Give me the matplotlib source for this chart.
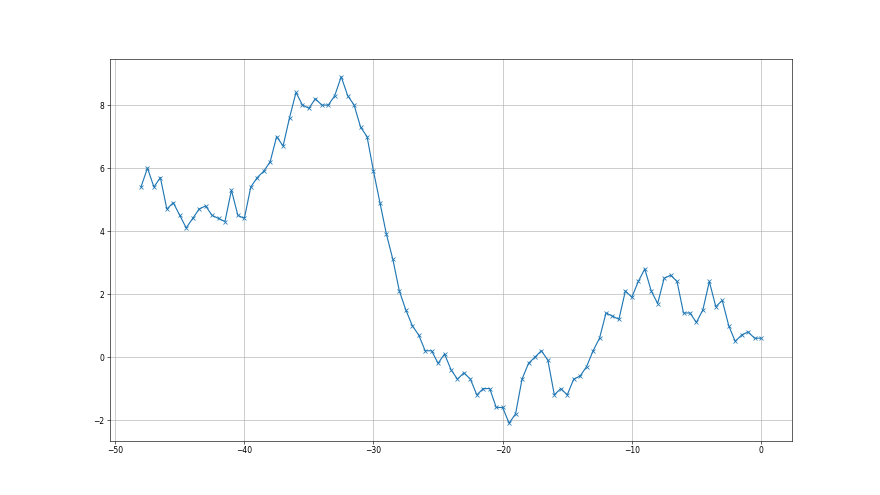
import matplotlib
matplotlib.use("Agg")
import matplotlib.pyplot as plt

x_values = [-48.0, -47.5, -47.0, -46.5, -46.0, -45.5, -45.0, -44.5, -44.0, -43.5,
            -43.0, -42.5, -42.0, -41.5, -41.0, -40.5, -40.0, -39.5, -39.0, -38.5,
            -38.0, -37.5, -37.0, -36.5, -36.0, -35.5, -35.0, -34.5, -34.0, -33.5,
            -33.0, -32.5, -32.0, -31.5, -31.0, -30.5, -30.0, -29.5, -29.0, -28.5,
            -28.0, -27.5, -27.0, -26.5, -26.0, -25.5, -25.0, -24.5, -24.0, -23.5,
            -23.0, -22.5, -22.0, -21.5, -21.0, -20.5, -20.0, -19.5, -19.0, -18.5,
            -18.0, -17.5, -17.0, -16.5, -16.0, -15.5, -15.0, -14.5, -14.0, -13.5,
            -13.0, -12.5, -12.0, -11.5, -11.0, -10.5, -10.0, -9.5, -9.0, -8.5,
            -8.0, -7.5, -7.0, -6.5, -6.0, -5.5, -5.0, -4.5, -4.0, -3.5,
            -3.0, -2.5, -2.0, -1.5, -1.0, -0.5, 0.0]

y_values = [5.4, 6.0, 5.4, 5.7, 4.7, 4.9, 4.5, 4.1, 4.4, 4.7,
            4.8, 4.5, 4.4, 4.3, 5.3, 4.5, 4.4, 5.4, 5.7, 5.9,
            6.2, 7.0, 6.7, 7.6, 8.4, 8.0, 7.9, 8.2, 8.0, 8.0,
            8.3, 8.9, 8.3, 8.0, 7.3, 7.0, 5.9, 4.9, 3.9, 3.1,
            2.1, 1.5, 1.0, 0.7, 0.2, 0.2, -0.2, 0.1, -0.4, -0.7,
            -0.5, -0.7, -1.2, -1.0, -1.0, -1.6, -1.6, -2.1, -1.8, -0.7,
            -0.2, 0.0, 0.2, -0.1, -1.2, -1.0, -1.2, -0.7, -0.6, -0.3,
            0.2, 0.6, 1.4, 1.3, 1.2, 2.1, 1.9, 2.4, 2.8, 2.1,
            1.7, 2.5, 2.6, 2.4, 1.4, 1.4, 1.1, 1.5, 2.4, 1.6,
            1.8, 1.0, 0.5, 0.7, 0.8, 0.6, 0.6]

fig, ax = plt.subplots(figsize=(16, 9), dpi=55)
ax.plot(x_values, y_values, marker='x', color='#1f77b4')
ax.grid(True)
fig.savefig("out.png", dpi=55)
